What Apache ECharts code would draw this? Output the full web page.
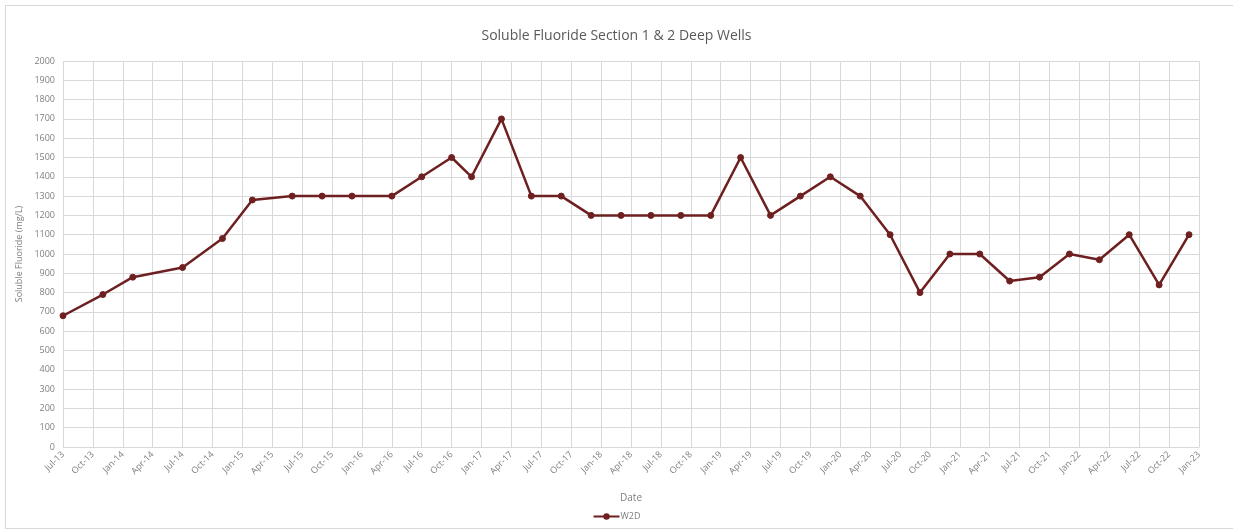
<!DOCTYPE html>
<html>
<head>
<meta charset="utf-8">
<script src="https://cdn.jsdelivr.net/npm/echarts@6/dist/echarts.min.js"></script>
<style>
  html, body { margin: 0; padding: 0; background: #ffffff; }
  #frame { position: absolute; left: 5px; top: 5px; width: 1240px; height: 524px; border: 1px solid #d9d9d9; box-sizing: border-box; }
  #chart { position: absolute; left: 0; top: 0; width: 1233px; height: 531px; }
</style>
</head>
<body>
<div id="frame"></div>
<div id="chart"></div>
<script>
// Sample dates (year-month) and soluble fluoride readings for well W2D
const sampleDates = [
  '2013-07', '2013-11', '2014-02', '2014-07', '2014-11', '2015-02', '2015-06',
  '2015-09', '2015-12', '2016-04', '2016-07', '2016-10', '2016-12', '2017-03',
  '2017-06', '2017-09', '2017-12', '2018-03', '2018-06', '2018-09', '2018-12',
  '2019-03', '2019-06', '2019-09', '2019-12', '2020-03', '2020-06', '2020-09',
  '2020-12', '2021-03', '2021-06', '2021-09', '2021-12', '2022-03', '2022-06',
  '2022-09', '2022-12'
];
const w2dValues = [
  680, 790, 880, 930, 1080, 1280, 1300,
  1300, 1300, 1300, 1400, 1500, 1400, 1700,
  1300, 1300, 1200, 1200, 1200, 1200, 1200,
  1500, 1200, 1300, 1400, 1300, 1100, 800,
  1000, 1000, 860, 880, 1000, 970, 1100,
  840, 1100
];
const monthNames = ['Jan', 'Feb', 'Mar', 'Apr', 'May', 'Jun', 'Jul', 'Aug', 'Sep', 'Oct', 'Nov', 'Dec'];
const axisStart = { year: 2013, month: 7 };   // Jul-13
const axisEnd = { year: 2023, month: 1 };     // Jan-23

// Months elapsed since the start of the axis
function monthIndex(y, m) {
  return (y - axisStart.year) * 12 + (m - axisStart.month);
}
function indexToLabel(idx) {
  const total = axisStart.year * 12 + (axisStart.month - 1) + Math.round(idx);
  const y = Math.floor(total / 12);
  const m = total % 12;
  return monthNames[m] + '-' + String(y % 100).padStart(2, '0');
}

const points = sampleDates.map((d, i) => {
  const [y, m] = d.split('-').map(Number);
  return [monthIndex(y, m), w2dValues[i]];
});

const textColor = '#7f7f7f';
const gridColor = '#d9d9d9';
const lineColor = '#6e1f1f';
const fontFamily = '"Open Sans", "Noto Sans", sans-serif';

const chart = echarts.init(document.getElementById('chart'), null, { renderer: 'canvas' });
chart.setOption({
  animation: false,
  backgroundColor: 'transparent',
  textStyle: { fontFamily: fontFamily },
  title: {
    text: 'Soluble Fluoride Section 1 & 2 Deep Wells',
    left: 'center',
    top: 24,
    textStyle: { color: '#595959', fontSize: 14, fontWeight: 'normal', fontFamily: fontFamily }
  },
  legend: {
    bottom: 5,
    left: 'center',
    itemWidth: 26,
    itemHeight: 8,
    itemGap: 4,
    textStyle: { color: textColor, fontSize: 9, padding: [0, 0, 0, -4], fontFamily: fontFamily },
    data: ['W2D']
  },
  grid: { left: 63, right: 34, top: 61, bottom: 84, containLabel: false },
  xAxis: {
    type: 'value',
    min: 0,
    max: monthIndex(axisEnd.year, axisEnd.month),
    interval: 3,
    name: 'Date',
    nameLocation: 'middle',
    nameGap: 46,
    nameTextStyle: { color: textColor, fontSize: 10, fontFamily: fontFamily },
    axisLine: { show: true, lineStyle: { color: gridColor, width: 1 } },
    axisTick: { show: false },
    splitLine: { show: true, lineStyle: { color: gridColor, width: 1 } },
    axisLabel: {
      color: textColor,
      fontSize: 9,
      rotate: 45,
      margin: 6,
      fontFamily: fontFamily,
      formatter: v => indexToLabel(v)
    }
  },
  yAxis: {
    type: 'value',
    min: 0,
    max: 2000,
    interval: 100,
    name: 'Soluble Fluoride (mg/L)',
    nameLocation: 'middle',
    nameGap: 36,
    nameRotate: 90,
    nameTextStyle: { color: textColor, fontSize: 9, fontFamily: fontFamily },
    axisLine: { show: false },
    axisTick: { show: false },
    splitLine: { show: true, lineStyle: { color: gridColor, width: 1 } },
    axisLabel: { color: textColor, fontSize: 9, margin: 8, fontFamily: fontFamily, formatter: v => String(v) }
  },
  series: [{
    name: 'W2D',
    type: 'line',
    data: points,
    symbol: 'circle',
    symbolSize: 6,
    showSymbol: true,
    lineStyle: { color: lineColor, width: 2.5 },
    itemStyle: { color: lineColor, borderColor: lineColor }
  }]
});
</script>
</body>
</html>
